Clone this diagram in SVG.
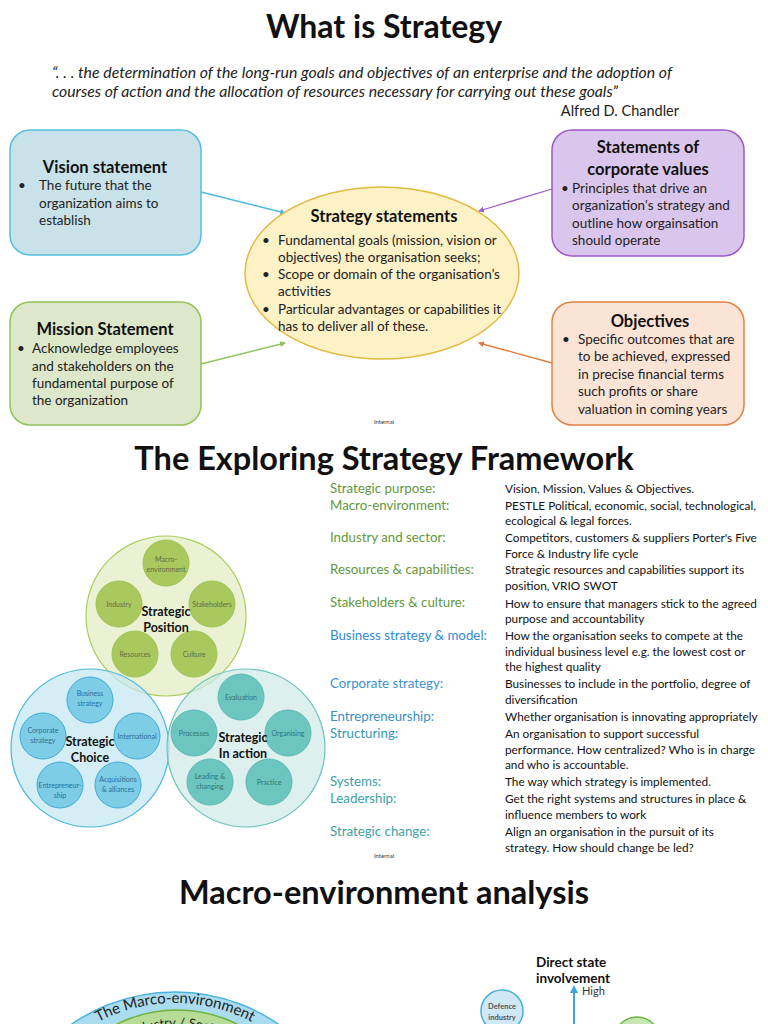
<svg xmlns="http://www.w3.org/2000/svg" width="768" height="1024" viewBox="0 0 768 1024">
<style>
text{font-family:Lato,"Open Sans","Liberation Sans",sans-serif;fill:#111}
.h1{font-size:32px;font-weight:700;text-anchor:middle}
.h2{font-size:32.5px;font-weight:700;text-anchor:middle}
.q{font-size:15.5px;font-style:italic;fill:#222}
.bt{font-size:16.5px;font-weight:700;text-anchor:middle}
.b{font-size:13.5px;fill:#222}
.int{font-size:6px;fill:#333;text-anchor:middle}
.sc{font-size:7px;fill:#5f6b48;text-anchor:middle}
.lab{font-size:12.5px;font-weight:700;text-anchor:middle}
.tl{font-size:13.3px}
.tr{font-size:11.8px;fill:#111}
.g{fill:#63973c}.bl{fill:#2f8ad8}.bl2{fill:#3d8fd0}.bl3{fill:#3790c8}.tq{fill:#3299b8}.tq2{fill:#3aa2a8}
.con{fill:none;stroke-width:1.3}
</style>
<defs>
<marker id="mB" markerWidth="6" markerHeight="6" refX="5" refY="3" orient="auto" markerUnits="userSpaceOnUse"><path d="M0,0L6,3L0,6z" fill="#4bb8df"/></marker>
<marker id="mG" markerWidth="6" markerHeight="6" refX="5" refY="3" orient="auto" markerUnits="userSpaceOnUse"><path d="M0,0L6,3L0,6z" fill="#8fc25a"/></marker>
<marker id="mP" markerWidth="6" markerHeight="6" refX="5" refY="3" orient="auto" markerUnits="userSpaceOnUse"><path d="M0,0L6,3L0,6z" fill="#9b5cc8"/></marker>
<marker id="mO" markerWidth="6" markerHeight="6" refX="5" refY="3" orient="auto" markerUnits="userSpaceOnUse"><path d="M0,0L6,3L0,6z" fill="#e07a3a"/></marker>
<marker id="mA" markerWidth="8" markerHeight="8" refX="6" refY="4" orient="auto" markerUnits="userSpaceOnUse"><path d="M0,0L8,4L0,8z" fill="#3aa6d9"/></marker>
<path id="arcOuter" d="M 10,1168 A 165,165 0 0 1 340,1168"/>
<path id="arcInner" d="M 59,1145 A 118,118 0 0 1 295,1145"/>
</defs>
<rect width="768" height="1024" fill="#fff"/>

<!-- Section 1 -->
<text class="h1" x="384" y="38">What is Strategy</text>
<text class="q" x="52" y="78" textLength="620" lengthAdjust="spacingAndGlyphs">“. . . the determination of the long-run goals and objectives of an enterprise and the adoption of</text>
<text class="q" x="52" y="97" textLength="566" lengthAdjust="spacingAndGlyphs">courses of action and the allocation of resources necessary for carrying out these goals”</text>
<text x="679" y="116" style="font-size:14.5px;text-anchor:end;fill:#222">Alfred D. Chandler</text>

<g id="connectors1">
<line class="con" x1="201" y1="192" x2="285" y2="213" stroke="#4bb8df" marker-end="url(#mB)"/>
<line class="con" x1="201" y1="364" x2="285" y2="343" stroke="#8fc25a" marker-end="url(#mG)"/>
<line class="con" x1="552" y1="189" x2="479" y2="211" stroke="#9b5cc8" marker-end="url(#mP)"/>
<line class="con" x1="552" y1="363" x2="479" y2="343" stroke="#e07a3a" marker-end="url(#mO)"/>
</g>

<g id="vision">
<rect x="10" y="130" width="191" height="125" rx="20" fill="#c9e2ea" stroke="#55bfe0" stroke-width="1.5"/>
<text class="bt" x="105" y="173">Vision statement</text>
<text class="b" x="18" y="190">•</text>
<text class="b" x="39" y="190">The future that the</text>
<text class="b" x="39" y="208">organization aims to</text>
<text class="b" x="39" y="225">establish</text>
</g>

<g id="mission">
<rect x="10" y="302" width="191" height="123" rx="20" fill="#dde7c9" stroke="#92c35a" stroke-width="1.5"/>
<text class="bt" x="105" y="335">Mission Statement</text>
<text class="b" x="17" y="353">•</text>
<text class="b" x="32" y="353">Acknowledge employees</text>
<text class="b" x="32" y="371">and stakeholders on the</text>
<text class="b" x="32" y="388">fundamental purpose of</text>
<text class="b" x="32" y="405">the organization</text>
</g>

<g id="strategy-statements">
<ellipse cx="382" cy="273" rx="137" ry="86" fill="#fdf1c6" stroke="#e3b943" stroke-width="1.5"/>
<text class="bt" x="384" y="222">Strategy statements</text>
<text class="b" x="262" y="245">•</text>
<text class="b" x="278" y="245">Fundamental goals (mission, vision or</text>
<text class="b" x="278" y="262">objectives) the organisation seeks;</text>
<text class="b" x="262" y="279">•</text>
<text class="b" x="278" y="279">Scope or domain of the organisation’s</text>
<text class="b" x="278" y="296">activities</text>
<text class="b" x="262" y="314">•</text>
<text class="b" x="278" y="314">Particular advantages or capabilities it</text>
<text class="b" x="278" y="331">has to deliver all of these.</text>
</g>

<g id="values">
<rect x="552" y="130" width="192" height="126" rx="20" fill="#dac6ec" stroke="#9d59c9" stroke-width="1.5"/>
<text class="bt" x="648" y="153">Statements of</text>
<text class="bt" x="648" y="175">corporate values</text>
<text class="b" x="561" y="193">•</text>
<text class="b" x="572" y="193">Principles that drive an</text>
<text class="b" x="572" y="210">organization's strategy and</text>
<text class="b" x="572" y="228">outline how orgainsation</text>
<text class="b" x="572" y="245">should operate</text>
</g>

<g id="objectives">
<rect x="552" y="302" width="192" height="123" rx="20" fill="#fbe4d6" stroke="#e5813f" stroke-width="1.5"/>
<text class="bt" x="650" y="327">Objectives</text>
<text class="b" x="562" y="344">•</text>
<text class="b" x="578" y="344">Specific outcomes that are</text>
<text class="b" x="578" y="361">to be achieved, expressed</text>
<text class="b" x="578" y="379">in precise financial terms</text>
<text class="b" x="578" y="396">such profits or share</text>
<text class="b" x="578" y="414">valuation in coming years</text>
</g>
<text class="int" x="384" y="424">Internal</text>

<!-- Section 2 -->
<text class="h2" x="384" y="470">The Exploring Strategy Framework</text>

<g id="strategic-position">
<circle cx="166" cy="616" r="80" fill="#e4eec4" fill-opacity="0.75" stroke="#a9cc5c" stroke-width="1.2"/>
<g fill="#a9c95e" stroke="#9cc450">
<circle cx="166" cy="563" r="23"/><circle cx="119" cy="604" r="23"/><circle cx="212" cy="604" r="23"/><circle cx="135" cy="654" r="23"/><circle cx="194" cy="654" r="23"/>
</g>
<text class="sc" x="166" y="562">Macro-</text><text class="sc" x="166" y="572">environment</text>
<text class="sc" x="119" y="607">Industry</text>
<text class="sc" x="212" y="607">Stakeholders</text>
<text class="sc" x="135" y="657">Resources</text>
<text class="sc" x="194" y="657">Culture</text>
<text class="lab" x="166" y="616">Strategic</text>
<text class="lab" x="166" y="632">Position</text>
</g>

<g id="strategic-choice">
<circle cx="90" cy="748" r="79" fill="#c7e7f2" fill-opacity="0.75" stroke="#4bb8df" stroke-width="1.2"/>
<g fill="#7ccde5" stroke="#3eaad4">
<circle cx="90" cy="700" r="23"/><circle cx="43" cy="736" r="23"/><circle cx="137" cy="736" r="23"/><circle cx="60" cy="785" r="23"/><circle cx="118" cy="785" r="23"/>
</g>
<text class="sc" x="90" y="696" style="fill:#2a6f9a">Business</text><text class="sc" x="90" y="706" style="fill:#2a6f9a">strategy</text>
<text class="sc" x="43" y="733" style="fill:#2a6f9a">Corporate</text><text class="sc" x="43" y="743" style="fill:#2a6f9a">strategy</text>
<text class="sc" x="137" y="739" style="fill:#2a6f9a">International</text>
<text class="sc" x="60" y="788" style="fill:#2a6f9a">Entrepreneur-</text><text class="sc" x="60" y="798" style="fill:#2a6f9a">ship</text>
<text class="sc" x="118" y="782" style="fill:#2a6f9a">Acquisitions</text><text class="sc" x="118" y="792" style="fill:#2a6f9a">&amp; alliances</text>
<text class="lab" x="90" y="746">Strategic</text>
<text class="lab" x="90" y="762">Choice</text>
</g>

<g id="strategic-in-action">
<circle cx="246" cy="748" r="79" fill="#cfeae7" fill-opacity="0.7" stroke="#6cc3bd" stroke-width="1.2"/>
<g fill="#6dc5bf" stroke="#5cbab3">
<circle cx="241" cy="697" r="23"/><circle cx="194" cy="733" r="23"/><circle cx="288" cy="733" r="23"/><circle cx="210" cy="782" r="23"/><circle cx="269" cy="782" r="23"/>
</g>
<text class="sc" x="241" y="700" style="fill:#2f7571">Evaluation</text>
<text class="sc" x="194" y="736" style="fill:#2f7571">Processes</text>
<text class="sc" x="288" y="736" style="fill:#2f7571">Organising</text>
<text class="sc" x="210" y="779" style="fill:#2f7571">Leading  &amp;</text><text class="sc" x="210" y="789" style="fill:#2f7571">changing</text>
<text class="sc" x="269" y="785" style="fill:#2f7571">Practice</text>
<text class="lab" x="243" y="742">Strategic</text>
<text class="lab" x="243" y="758">In action</text>
</g>

<g id="framework-table">
<text class="tl g" x="330" y="493">Strategic purpose:</text>
<text class="tr" x="505" y="493">Vision, Mission, Values &amp; Objectives.</text>
<text class="tl g" x="330" y="510">Macro-environment:</text>
<text class="tr" x="505" y="510">PESTLE Political, economic, social, technological,</text>
<text class="tr" x="505" y="525">ecological &amp; legal forces.</text>
<text class="tl g" x="330" y="542">Industry and sector:</text>
<text class="tr" x="505" y="542">Competitors, customers &amp; suppliers Porter's Five</text>
<text class="tr" x="505" y="558">Force &amp; Industry life cycle</text>
<text class="tl g" x="330" y="574">Resources &amp; capabilities:</text>
<text class="tr" x="505" y="574">Strategic resources and capabilities support its</text>
<text class="tr" x="505" y="590">position, VRIO SWOT</text>
<text class="tl g" x="330" y="607">Stakeholders &amp; culture:</text>
<text class="tr" x="505" y="608">How to ensure that managers stick to the agreed</text>
<text class="tr" x="505" y="623">purpose and accountability</text>
<text class="tl bl" x="330" y="640">Business strategy &amp; model:</text>
<text class="tr" x="505" y="640">How the organisation seeks to compete at the</text>
<text class="tr" x="505" y="656">individual business level e.g. the lowest cost or</text>
<text class="tr" x="505" y="671">the highest quality</text>
<text class="tl bl2" x="330" y="688">Corporate strategy:</text>
<text class="tr" x="505" y="688">Businesses to include in the portfolio, degree of</text>
<text class="tr" x="505" y="704">diversification</text>
<text class="tl bl3" x="330" y="721">Entrepreneurship:</text>
<text class="tr" x="505" y="721">Whether organisation is innovating appropriately</text>
<text class="tl tq" x="330" y="738">Structuring:</text>
<text class="tr" x="505" y="738">An organisation to support successful</text>
<text class="tr" x="505" y="754">performance. How centralized? Who is in charge</text>
<text class="tr" x="505" y="769">and who is accountable.</text>
<text class="tl tq2" x="330" y="786">Systems:</text>
<text class="tr" x="505" y="786">The way which strategy is implemented.</text>
<text class="tl tq2" x="330" y="803">Leadership:</text>
<text class="tr" x="505" y="803">Get the right systems and structures in place &amp;</text>
<text class="tr" x="505" y="819">influence members to work</text>
<text class="tl tq2" x="330" y="836">Strategic change:</text>
<text class="tr" x="505" y="836">Align an organisation in the pursuit of its</text>
<text class="tr" x="505" y="852">strategy. How should change be led?</text>
</g>
<text class="int" x="384" y="858">Internal</text>

<!-- Section 3 -->
<text class="h2" x="384" y="904">Macro-environment analysis</text>

<g id="macro-environment-rings">
<circle cx="175" cy="1174" r="182" fill="#aadcef" stroke="#4ab2dc" stroke-width="1.5"/>
<circle cx="177" cy="1145" r="135" fill="#b7dc98" stroke="#6db33f" stroke-width="1.5"/>
<text style="font-size:15px;fill:#222"><textPath href="#arcOuter" startOffset="50%" text-anchor="middle">The Marco-environment</textPath></text>
<text style="font-size:13px;fill:#222"><textPath href="#arcInner" startOffset="50%" text-anchor="middle">Industry / Sector</textPath></text>
</g>

<g id="defence-industry">
<circle cx="502" cy="1011" r="21" fill="#cfe8f5" stroke="#4ab2dc" stroke-width="1.5"/>
<text x="502" y="1009" style="font-size:7.5px;font-weight:700;fill:#555;text-anchor:middle">Defence</text>
<text x="502" y="1020" style="font-size:7.5px;font-weight:700;fill:#555;text-anchor:middle">industry</text>
</g>
<g id="green-node">
<circle cx="637" cy="1040" r="23" fill="#c6e6b3" stroke="#6db33f" stroke-width="1.5"/>
</g>
<g id="axis">
<line x1="574" y1="1024" x2="574" y2="987" stroke="#3aa6d9" stroke-width="2" marker-end="url(#mA)"/>
<text x="536" y="967" style="font-size:13.5px;font-weight:700">Direct state</text>
<text x="536" y="983" style="font-size:13.5px;font-weight:700">involvement</text>
<text x="582" y="995" style="font-size:11px;fill:#333">High</text>
</g>
</svg>
